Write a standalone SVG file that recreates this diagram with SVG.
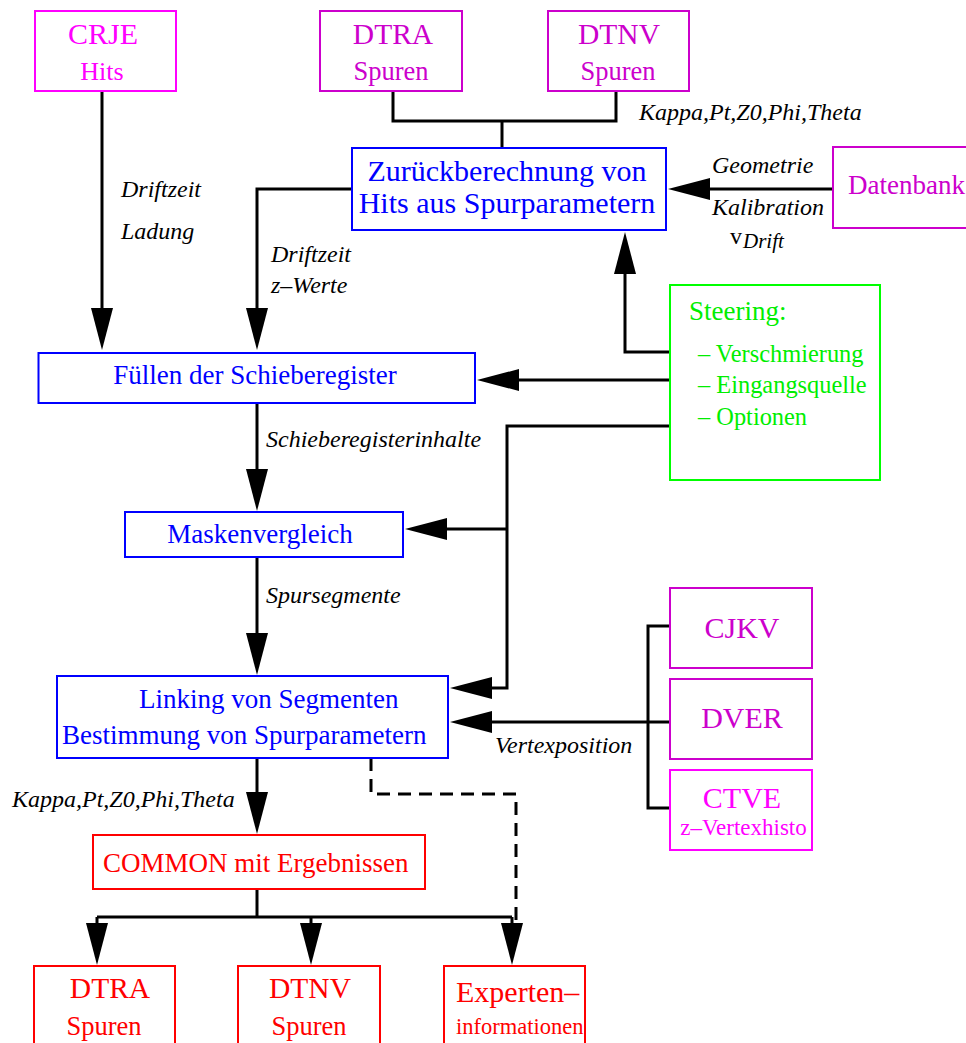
<svg xmlns="http://www.w3.org/2000/svg" width="966" height="1043" viewBox="0 0 966 1043">
  <defs>
    <style>
      text { font-family: "Liberation Serif", "Times New Roman", serif; }
      .box { fill: #ffffff; stroke-width: 2; }
      .mag { stroke: #cc00cc; }
      .pink { stroke: #ff00ff; }
      .blue { stroke: #0000ff; }
      .red { stroke: #ff0000; }
      .green { stroke: #00ff00; }
      .tmag { fill: #cc00cc; }
      .tpink { fill: #ff00ff; }
      .tblue { fill: #0000ff; }
      .tred { fill: #ff0000; }
      .tgreen { fill: #00ee00; }
      .lbl { fill: #000000; font-style: italic; font-size: 24px; }
      .wire { fill: none; stroke: #000000; stroke-width: 3; }
      .arrow { marker-end: url(#head); }
      .dash { stroke-dasharray: 13 8; }
    </style>
    <marker id="head" viewBox="0 0 42 22" markerWidth="42" markerHeight="22" refX="34" refY="11" markerUnits="userSpaceOnUse" orient="auto">
      <path d="M0,0 L42,11 L0,22 Z" fill="#000000"/>
    </marker>
  </defs>

  <rect width="966" height="1043" fill="#ffffff"/>

  <!-- connectors (line ends sit 8px short of the arrow tip) -->
  <g id="connectors">
    <path class="wire arrow" d="M102,91 V342"/>
    <path class="wire arrow" d="M352,189 H257 V342"/>
    <path class="wire" d="M393,92 V121 H616 V92"/>
    <path class="wire" d="M502,121 V148"/>
    <path class="wire arrow" d="M833,189 H676"/>
    <path class="wire arrow" d="M670,352 H625 V240"/>
    <path class="wire arrow" d="M670,380 H485"/>
    <path class="wire arrow" d="M670,426 H507 V688 H458"/>
    <path class="wire arrow" d="M507,529 H413"/>
    <path class="wire arrow" d="M257,403 V503"/>
    <path class="wire arrow" d="M257,557 V667"/>
    <path class="wire" d="M670,626 H648 V808 H670"/>
    <path class="wire arrow" d="M670,722 H458"/>
    <path class="wire arrow" d="M257,758 V826"/>
    <path class="wire" d="M257,889 V917"/>
    <path class="wire" d="M97,917 H512"/>
    <path class="wire arrow" d="M97,917 V957"/>
    <path class="wire arrow" d="M311,917 V957"/>
    <path class="wire arrow" d="M512,917 V957"/>
    <path class="wire dash" d="M371,758 V794 H516 V924"/>

    <text class="lbl" x="121" y="197">Driftzeit</text>
    <text class="lbl" x="121" y="239">Ladung</text>
    <text class="lbl" x="271" y="262">Driftzeit</text>
    <text class="lbl" x="271" y="293">z–Werte</text>
    <text class="lbl" x="639" y="120">Kappa,Pt,Z0,Phi,Theta</text>
    <text class="lbl" x="712" y="173">Geometrie</text>
    <text class="lbl" x="712" y="215">Kalibration</text>
    <text x="730" y="244" font-size="24" fill="#000000">v</text>
    <text class="lbl" x="743" y="248" style="font-size:21px">Drift</text>
    <text class="lbl" x="266" y="447">Schieberegisterinhalte</text>
    <text class="lbl" x="266" y="603">Spursegmente</text>
    <text class="lbl" x="495" y="753">Vertexposition</text>
    <text class="lbl" x="12" y="807">Kappa,Pt,Z0,Phi,Theta</text>
  </g>

  <g id="crje">
    <rect class="box pink" x="35" y="11" width="141" height="80"/>
    <text class="tpink" x="103" y="44" font-size="30" text-anchor="middle">CRJE</text>
    <text class="tpink" x="102" y="80" font-size="26" text-anchor="middle">Hits</text>
  </g>

  <g id="dtra-in">
    <rect class="box mag" x="320" y="11" width="142" height="80"/>
    <text class="tmag" x="393" y="44" font-size="29.5" text-anchor="middle">DTRA</text>
    <text class="tmag" x="391" y="80" font-size="26.5" text-anchor="middle">Spuren</text>
  </g>

  <g id="dtnv-in">
    <rect class="box mag" x="548" y="11" width="141" height="80"/>
    <text class="tmag" x="619" y="44" font-size="29.5" text-anchor="middle">DTNV</text>
    <text class="tmag" x="618" y="80" font-size="26.5" text-anchor="middle">Spuren</text>
  </g>

  <g id="rueckrechnung">
    <rect class="box blue" x="352" y="148" width="314" height="82"/>
    <text class="tblue" x="507" y="181" font-size="30" text-anchor="middle">Zurückberechnung von</text>
    <text class="tblue" x="507" y="213" font-size="30" text-anchor="middle">Hits aus Spurparametern</text>
  </g>

  <g id="datenbank">
    <rect class="box mag" x="833" y="147" width="150" height="81"/>
    <text class="tmag" x="848" y="194" font-size="27">Datenbank</text>
  </g>

  <g id="steering">
    <rect class="box green" x="670" y="285" width="210" height="195"/>
    <text class="tgreen" x="689" y="320" font-size="27">Steering:</text>
    <text class="tgreen" x="698" y="362" font-size="24.4">– Verschmierung</text>
    <text class="tgreen" x="698" y="393" font-size="24.4">– Eingangsquelle</text>
    <text class="tgreen" x="698" y="425" font-size="24.4">– Optionen</text>
  </g>

  <g id="fuellen">
    <rect class="box blue" x="38.5" y="353" width="436.5" height="50"/>
    <text class="tblue" x="255" y="384" font-size="27" text-anchor="middle">Füllen der Schieberegister</text>
  </g>

  <g id="maskenvergleich">
    <rect class="box blue" x="125" y="512" width="278" height="45"/>
    <text class="tblue" x="260" y="543" font-size="27" text-anchor="middle">Maskenvergleich</text>
  </g>

  <g id="linking">
    <rect class="box blue" x="57" y="676" width="391" height="82"/>
    <text class="tblue" x="139" y="708" font-size="27">Linking von Segmenten</text>
    <text class="tblue" x="62" y="744" font-size="27">Bestimmung von Spurparametern</text>
  </g>

  <g id="cjkv">
    <rect class="box mag" x="670" y="588" width="142" height="80"/>
    <text class="tmag" x="742" y="638" font-size="30" text-anchor="middle">CJKV</text>
  </g>

  <g id="dver">
    <rect class="box mag" x="670" y="679" width="142" height="80"/>
    <text class="tmag" x="742" y="728" font-size="30" text-anchor="middle">DVER</text>
  </g>

  <g id="ctve">
    <rect class="box pink" x="670" y="770" width="142" height="80"/>
    <text class="tpink" x="742" y="808" font-size="30" text-anchor="middle">CTVE</text>
    <text class="tpink" x="743.5" y="835" font-size="23" text-anchor="middle">z–Vertexhisto</text>
  </g>

  <g id="common">
    <rect class="box red" x="93" y="835" width="332" height="54"/>
    <text class="tred" x="103" y="872" font-size="27">COMMON mit Ergebnissen</text>
  </g>

  <g id="dtra-out">
    <rect class="box red" x="34" y="966" width="141" height="90"/>
    <text class="tred" x="110" y="998" font-size="29.5" text-anchor="middle">DTRA</text>
    <text class="tred" x="104" y="1035" font-size="26.5" text-anchor="middle">Spuren</text>
  </g>

  <g id="dtnv-out">
    <rect class="box red" x="238" y="966" width="142" height="90"/>
    <text class="tred" x="310" y="998" font-size="29.5" text-anchor="middle">DTNV</text>
    <text class="tred" x="309" y="1035" font-size="26.5" text-anchor="middle">Spuren</text>
  </g>

  <g id="experten">
    <rect class="box red" x="444" y="966" width="141" height="90"/>
    <text class="tred" x="456" y="1002" font-size="30">Experten–</text>
    <text class="tred" x="456" y="1034" font-size="22.5">informationen</text>
  </g>
</svg>
